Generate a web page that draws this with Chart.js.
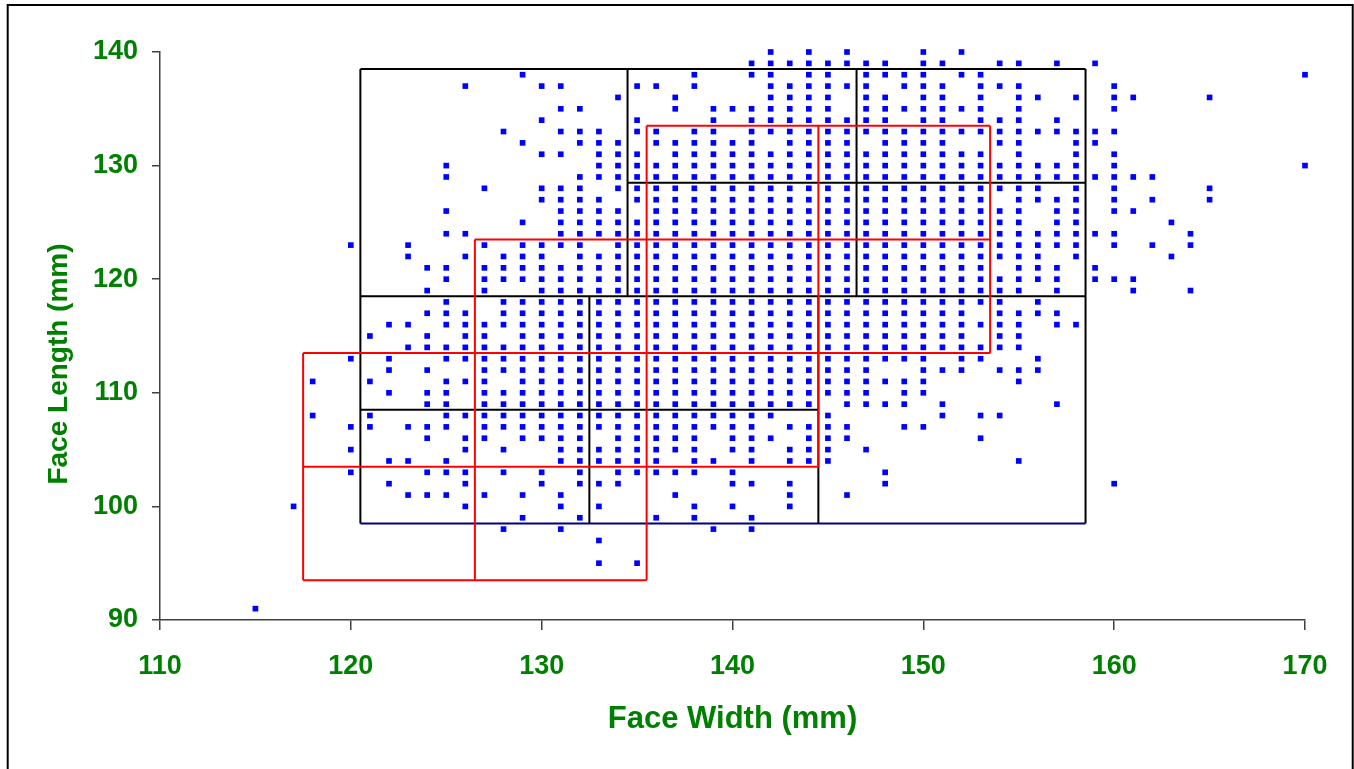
<!DOCTYPE html>
<html>
<head>
<meta charset="utf-8">
<script src="https://cdn.jsdelivr.net/npm/chart.js@4/dist/chart.umd.min.js"></script>
<style>
  html, body { margin: 0; padding: 0; background: #fff; }
</style>
</head>
<body>
<canvas id="grafico" width="1354" height="769"></canvas>
<script>
// Face length (mm) of each row of points, top to bottom
const faceLengths = [140, 139, 138, 137, 136, 135, 134, 133, 132, 131, 130, 129, 128, 127, 126, 125, 124, 123, 122, 121, 120,
  119, 118, 117, 116, 115, 114, 113, 112, 111, 110, 109, 108, 107, 106, 105, 104, 103, 102, 101, 100, 99, 98, 97, 95, 91];

// Face widths (mm) measured at each face length above
const faceWidthsAtLength = [
  [142, 144, 146, 150, 152],
  [141, 142, 143, 144, 145, 146, 147, 148, 150, 151, 154, 155, 157, 159],
  [129, 138, 141, 142, 144, 145, 147, 148, 149, 150, 152, 153, 170],
  [126, 130, 131, 135, 136, 138, 142, 143, 144, 145, 146, 147, 149, 150, 151, 153, 154, 155, 160],
  [134, 137, 142, 143, 144, 145, 147, 148, 150, 151, 153, 155, 156, 158, 160, 161, 165],
  [131, 132, 137, 139, 140, 141, 142, 143, 144, 145, 147, 148, 149, 150, 151, 152, 153, 155, 160],
  [130, 135, 139, 141, 142, 143, 144, 145, 146, 147, 148, 150, 151, 153, 154, 155, 157],
  [128, 131, 132, 133, 135, 136, 138, 139, 141, 142, 143, 144, 145, 146, 147, 148, 149, 150, 151, 152, 153, 154, 155, 156, 157, 158, 159, 160],
  [129, 132, 133, 134, 136, 137, 138, 139, 140, 141, 143, 144, 145, 146, 148, 149, 150, 151, 154, 155, 158, 159],
  [130, 131, 133, 134, 135, 137, 138, 139, 140, 141, 142, 143, 144, 145, 146, 147, 148, 149, 150, 151, 152, 153, 155, 158, 160],
  [125, 133, 134, 135, 136, 137, 138, 139, 140, 141, 142, 143, 144, 145, 146, 147, 148, 149, 150, 151, 152, 153, 154, 155, 156, 157, 158, 160, 170],
  [125, 132, 133, 134, 135, 136, 137, 138, 139, 140, 141, 142, 143, 144, 145, 146, 147, 148, 149, 150, 151, 152, 153, 154, 155, 156, 157, 158, 159, 160, 161, 162],
  [127, 130, 131, 132, 134, 135, 136, 137, 138, 139, 140, 141, 142, 143, 144, 145, 146, 147, 148, 149, 150, 151, 152, 153, 154, 155, 156, 158, 160, 165],
  [130, 131, 132, 133, 135, 136, 137, 138, 139, 140, 141, 142, 143, 144, 145, 146, 147, 148, 149, 150, 151, 152, 153, 155, 156, 157, 158, 160, 162, 165],
  [125, 131, 132, 133, 134, 136, 137, 138, 139, 140, 141, 142, 143, 144, 145, 146, 147, 148, 149, 150, 151, 152, 153, 154, 155, 157, 158, 160, 161],
  [129, 131, 132, 133, 134, 135, 136, 137, 138, 139, 140, 141, 142, 143, 144, 145, 146, 147, 148, 149, 150, 151, 152, 153, 154, 155, 157, 158, 163],
  [125, 126, 131, 132, 133, 134, 135, 136, 137, 138, 139, 140, 141, 142, 143, 144, 145, 146, 147, 148, 149, 150, 151, 152, 153, 154, 155, 156, 157, 158, 159, 160, 164],
  [120, 123, 127, 129, 130, 131, 132, 134, 135, 136, 137, 138, 139, 140, 141, 142, 143, 144, 145, 146, 147, 148, 149, 150, 151, 152, 153, 154, 155, 156, 157, 158, 160, 162, 164],
  [123, 126, 128, 129, 130, 132, 133, 134, 135, 136, 137, 138, 139, 140, 141, 142, 143, 144, 145, 146, 147, 148, 149, 150, 151, 152, 153, 154, 155, 156, 158, 163],
  [124, 125, 127, 128, 129, 130, 131, 132, 133, 134, 135, 136, 137, 138, 139, 140, 141, 142, 143, 144, 145, 146, 147, 148, 149, 150, 151, 152, 153, 155, 156, 157, 159],
  [125, 127, 128, 129, 130, 131, 132, 133, 134, 135, 136, 137, 138, 139, 140, 141, 142, 143, 144, 145, 146, 147, 148, 149, 150, 151, 152, 153, 154, 155, 156, 157, 159, 160, 161],
  [124, 127, 130, 131, 132, 133, 134, 135, 136, 137, 138, 139, 140, 141, 142, 143, 144, 145, 146, 147, 148, 149, 150, 151, 152, 153, 154, 155, 157, 161, 164],
  [125, 128, 129, 130, 131, 132, 133, 134, 135, 136, 137, 138, 139, 140, 141, 142, 143, 144, 145, 146, 147, 148, 149, 150, 151, 152, 153, 154, 156],
  [124, 125, 126, 128, 129, 130, 131, 132, 133, 134, 135, 136, 137, 138, 139, 140, 141, 142, 143, 144, 145, 146, 147, 148, 149, 150, 151, 152, 154, 155, 156, 157],
  [122, 123, 125, 126, 127, 128, 129, 130, 131, 132, 133, 134, 135, 136, 137, 138, 139, 140, 141, 142, 143, 144, 145, 146, 147, 148, 149, 150, 151, 152, 153, 154, 155, 157, 158],
  [121, 124, 126, 127, 129, 130, 131, 132, 133, 134, 135, 136, 137, 138, 139, 140, 141, 142, 143, 144, 145, 146, 147, 148, 149, 150, 151, 152, 154, 155],
  [123, 124, 125, 126, 127, 128, 129, 130, 131, 132, 133, 134, 135, 136, 137, 138, 139, 140, 141, 142, 143, 144, 145, 146, 147, 148, 149, 150, 151, 152, 153, 154, 155],
  [120, 122, 125, 126, 127, 128, 129, 130, 131, 132, 133, 134, 135, 136, 137, 138, 139, 140, 141, 142, 143, 144, 145, 146, 147, 148, 149, 150, 152, 153, 156],
  [122, 124, 127, 128, 129, 130, 131, 132, 133, 134, 135, 136, 137, 138, 139, 140, 141, 142, 143, 144, 145, 146, 147, 150, 151, 152, 154, 155, 156],
  [118, 121, 125, 126, 127, 129, 130, 131, 132, 133, 134, 135, 136, 137, 138, 139, 140, 141, 142, 143, 144, 145, 146, 147, 148, 149, 150, 155],
  [122, 124, 125, 127, 128, 129, 130, 131, 132, 133, 134, 135, 136, 137, 138, 139, 140, 141, 142, 143, 144, 145, 146, 147, 149, 150],
  [124, 125, 127, 128, 129, 130, 131, 132, 133, 134, 135, 136, 137, 138, 139, 140, 141, 142, 143, 144, 146, 147, 148, 149, 151, 157],
  [118, 121, 125, 126, 127, 128, 129, 130, 131, 132, 133, 134, 135, 136, 137, 138, 139, 140, 141, 142, 145, 151, 153, 154],
  [120, 121, 123, 124, 125, 127, 128, 129, 130, 131, 132, 133, 134, 135, 136, 137, 138, 139, 140, 141, 143, 144, 145, 146, 149, 150],
  [124, 126, 127, 129, 130, 131, 132, 134, 135, 136, 137, 138, 140, 141, 142, 144, 145, 146, 153],
  [120, 126, 128, 131, 132, 133, 134, 135, 136, 137, 138, 140, 141, 143, 144, 145, 147],
  [122, 123, 125, 131, 132, 133, 134, 135, 136, 138, 139, 141, 143, 144, 145, 155],
  [120, 124, 125, 126, 128, 130, 132, 134, 135, 136, 137, 138, 140, 148],
  [122, 126, 130, 132, 133, 134, 140, 141, 143, 148, 160],
  [123, 124, 125, 127, 129, 131, 137, 143, 146],
  [117, 126, 131, 133, 138, 140, 143],
  [129, 132, 136, 138, 141],
  [128, 131, 139, 141],
  [133],
  [133, 135],
  [115]
];

// Panel cell edges [width1, length1, width2, length2] in mm
const panelBlack = [
  [120.5, 138.5, 158.5, 138.5],
  [120.5, 98.5, 120.5, 138.5],
  [158.5, 98.5, 158.5, 138.5],
  [134.5, 118.5, 134.5, 138.5],
  [146.5, 118.5, 146.5, 138.5],
  [134.5, 128.5, 158.5, 128.5],
  [120.5, 118.5, 158.5, 118.5],
  [132.5, 98.5, 132.5, 118.5],
  [120.5, 108.5, 144.5, 108.5],
  [144.5, 98.5, 144.5, 118.5]
];
const panelBottom = [[120.5, 98.5, 158.5, 98.5]];
const panelRed = [
  [117.5, 93.5, 135.5, 93.5],
  [117.5, 93.5, 117.5, 113.5],
  [117.5, 113.5, 153.5, 113.5],
  [117.5, 103.5, 144.5, 103.5],
  [126.5, 93.5, 126.5, 123.5],
  [126.5, 123.5, 153.5, 123.5],
  [135.5, 93.5, 135.5, 133.5],
  [135.5, 133.5, 153.5, 133.5],
  [144.5, 103.5, 144.5, 133.5],
  [153.5, 113.5, 153.5, 133.5]
];

const xTicks = [110, 120, 130, 140, 150, 160, 170];
const yTicks = [90, 100, 110, 120, 130, 140];

const FUENTE = 'Arial, "Liberation Sans", sans-serif';
const VERDE = '#008000';

// puntos
const puntos = [];
faceLengths.forEach((largo, i) => {
  faceWidthsAtLength[i].forEach(ancho => puntos.push({x: ancho, y: largo}));
});

const lineas = (segs, color) => segs.map(s => ({
  data: [{x: s[0], y: s[1]}, {x: s[2], y: s[3]}],
  showLine: true,
  borderColor: color,
  borderWidth: 2,
  pointRadius: 0,
  fill: false
}));

const datasets = [
  {
    label: 'Subjects',
    data: puntos,
    pointStyle: 'rect',
    pointRadius: 4,
    backgroundColor: '#0000FF',
    borderWidth: 0,
    clip: false
  },
  ...lineas(panelRed, '#FF0000'),
  ...lineas(panelBottom, '#000080'),
  ...lineas(panelBlack, '#000000')
];

// marco exterior y titulo del eje Y
const marco = {
  id: 'marco',
  beforeDraw(chart) {
    const c = chart.ctx;
    c.save();
    c.fillStyle = '#fff';
    c.fillRect(0, 0, chart.width, chart.height);
    c.strokeStyle = '#000';
    c.lineWidth = 2;
    c.strokeRect(7.7, 5, 1345, 800);
    c.restore();
  },
  afterDraw(chart) {
    const c = chart.ctx;
    c.save();
    c.translate(59, 364);
    c.rotate(-Math.PI / 2);
    c.textAlign = 'center';
    c.textBaseline = 'middle';
    c.fillStyle = VERDE;
    c.font = 'bold 28px ' + FUENTE;
    c.fillText('Face Length (mm)', 0, 0);
    c.restore();
  }
};

let ctx = document.getElementById('grafico').getContext('2d');
new Chart(ctx, {
  type: 'scatter',
  data: { datasets },
  plugins: [marco],
  options: {
    responsive: false,
    animation: false,
    devicePixelRatio: 1,
    layout: { padding: { left: 0, right: 49, top: 52, bottom: 0 } },
    plugins: { legend: { display: false }, tooltip: { enabled: false } },
    scales: {
      x: {
        type: 'linear',
        min: 110, max: 170,
        afterBuildTicks: s => { s.ticks = xTicks.map(v => ({value: v})); },
        afterFit: s => { s.height = 149; },
        grid: { drawOnChartArea: false, tickLength: 10, color: '#404040', lineWidth: 1.5 },
        border: { color: '#404040', width: 1.5 },
        ticks: { color: VERDE, padding: 20, font: { family: FUENTE, size: 27, weight: 'bold' } },
        title: { display: true, text: 'Face Width (mm)', color: VERDE, padding: { top: 0, bottom: 31 },
                 font: { family: FUENTE, size: 31, weight: 'bold' } }
      },
      y: {
        type: 'linear',
        min: 90, max: 140,
        afterBuildTicks: s => { s.ticks = yTicks.map(v => ({value: v})); },
        afterFit: s => { s.width = 160; },
        grid: { drawOnChartArea: false, tickLength: 8, color: '#404040', lineWidth: 1.5 },
        border: { color: '#404040', width: 1.5 },
        ticks: { color: VERDE, padding: 14, font: { family: FUENTE, size: 27, weight: 'bold' } }
      }
    }
  }
});
</script>
</body>
</html>
